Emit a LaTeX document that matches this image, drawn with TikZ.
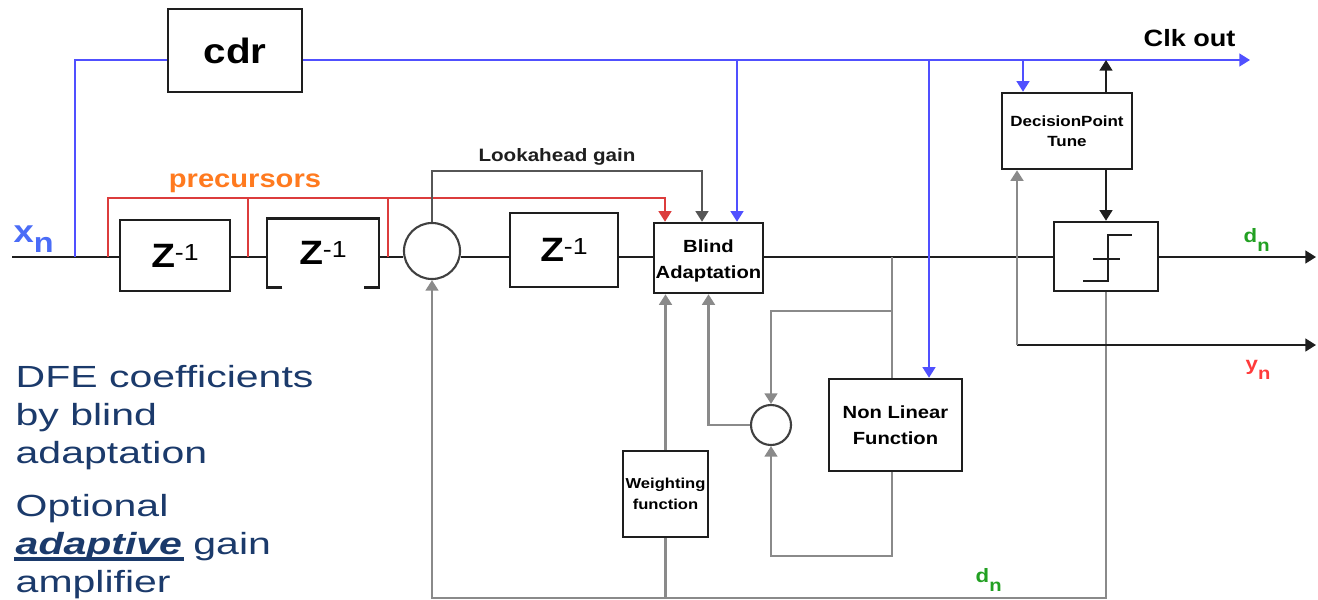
\documentclass[tikz,border=0pt]{standalone}
\usepackage{fontspec}
\setmainfont{Liberation Sans}[FakeStretch=1.15]
\newfontfamily\notefont{Liberation Sans}[FakeStretch=1.34]
\usetikzlibrary{arrows.meta, calc}
\definecolor{ink}     {HTML}{1E1E1E}
\definecolor{loopgrey}{HTML}{8A8A8A}
\definecolor{clkblue} {HTML}{5050FF}
\definecolor{xblue}   {HTML}{4A6CF7}
\definecolor{prered}  {HTML}{DC3C3C}
\definecolor{preorange}{HTML}{FF7A1F}
\definecolor{dgreen}  {HTML}{22A022}
\definecolor{yred}    {HTML}{FF3B3B}
\definecolor{navy}    {HTML}{1B3A6B}
\newcommand{\zinv}{{\fontsize{9.6}{10}\selectfont\bfseries Z}\raisebox{2pt}{\fontsize{6.6}{7}\selectfont\mdseries -1}}
\newcommand{\subn}[1]{{\bfseries #1}\raisebox{-2.6pt}{\fontsize{5}{5}\selectfont\bfseries n}}
\newcommand{\thickul}[1]{\setbox0\hbox{#1}\rlap{\kern-0.5pt\rule[-2pt]{\dimexpr\wd0+1pt\relax}{1.1pt}}\box0\relax}

\begin{document}
\begin{tikzpicture}[x=0.01cm, y=-0.01cm,
    >={Triangle[length=3pt,width=3.6pt]},
    wire/.style={draw=ink, line width=0.6pt},
    clk/.style={draw=clkblue, line width=0.6pt},
    pre/.style={draw=prered, line width=0.6pt},
    look/.style={draw=ink!75, line width=0.6pt},
    loop/.style={draw=loopgrey, line width=0.7pt},
    blk/.style={draw=ink, line width=0.7pt, fill=white, inner sep=0pt,
      align=center, font=\fontsize{5}{7.4}\selectfont\bfseries},
    sumc/.style={draw=ink!85, circle, line width=0.6pt, fill=white, inner sep=0pt}]

    % blocks
    \node[blk, minimum width=1.34cm, minimum height=0.83cm,
      font=\fontsize{10}{12}\selectfont\bfseries] (cdr) at (235,50.5) {cdr};
    \node[blk, minimum width=1.10cm, minimum height=0.71cm] (z1) at (175,255.5) {\zinv};
    \node[inner sep=0pt, minimum width=1.10cm, minimum height=0.68cm] (z2) at (323,253) {\zinv};
    \node[sumc, minimum size=0.56cm] (sum1) at (432,251) {};
    \node[blk, minimum width=1.08cm, minimum height=0.74cm] (z3) at (564,250) {\zinv};
    \node[blk, minimum width=1.09cm, minimum height=0.70cm] (ba) at (708.5,258) {\rule{0pt}{2.2pt}\\[-4.4pt]Blind\\Adaptation};
    \node[blk, minimum width=1.30cm, minimum height=0.76cm,
      font=\fontsize{4.2}{5.7}\selectfont\bfseries] (dpt) at (1067,131) {DecisionPoint\\Tune};
    \node[blk, minimum width=1.04cm, minimum height=0.69cm] (sl) at (1106,256.5) {};
    \node[blk, minimum width=1.33cm, minimum height=0.92cm] (nlf) at (895.5,425) {Non Linear\\Function};
    \node[blk, minimum width=0.85cm, minimum height=0.86cm,
      font=\fontsize{4.1}{6}\selectfont\bfseries] (wf) at (665.5,494) {Weighting\\function};
    \node[sumc, minimum size=0.40cm] (sum2) at (771,425) {};

    % second delay is drawn open at the bottom
    \draw[wire, line width=0.7pt] ([xshift=0.15cm]z2.south west) -- (z2.south west)
      -- (z2.north west) -- (z2.north east) -- (z2.south east) -- ([xshift=-0.15cm]z2.south east);

    % slicer symbol
    \draw[wire] (1083,281) -- (1108,281) -- (1108,235) -- (1132,235);
    \draw[wire] (1093,259) -- (1120,259);

    % main signal path
    \coordinate (xin) at (12,257);
    \coordinate (dout) at (1316,257);
    \draw[wire] (xin) -- (xin -| z1.west)
      (z1.east |- xin) -- (xin -| z2.west)
      (z2.east |- xin) -- (xin -| sum1.west)
      (sum1.east |- xin) -- (xin -| z3.west)
      (z3.east |- xin) -- (xin -| ba.west)
      (ba.east |- xin) -- (xin -| sl.west);
    \draw[wire, ->] (sl.east |- xin) -- (dout);

    % clock recovery
    \coordinate (ck) at (1250,60);
    \coordinate (tap0) at (75,257);
    \coordinate (b1) at (737,60);
    \coordinate (b2) at (929,60);
    \coordinate (b3) at (1023,60);
    \draw[clk] (tap0) |- (cdr.west |- ck);
    \draw[clk, ->] (cdr.east |- ck) -- (ck);
    \draw[clk, ->] (b1) -- (b1 |- ba.north);
    \draw[clk, ->] (b2) -- (b2 |- nlf.north);
    \draw[clk, ->] (b3) -- (b3 |- dpt.north);
    \draw[wire, ->] (sl.north |- dpt.north) -- (sl.north |- ck);
    \draw[wire, ->] (sl.north |- dpt.south) -- (sl.north);

    % precursor taps
    \coordinate (p1) at (108,257);
    \coordinate (p2) at (248,257);
    \coordinate (p3) at (388,257);
    \coordinate (pr) at (665,198);
    \draw[pre, ->] (p1) |- (pr) -- (pr |- ba.north);
    \draw[pre] (p2) -- (p2 |- pr);
    \draw[pre] (p3) -- (p3 |- pr);

    % lookahead gain
    \coordinate (la) at (702,171);
    \draw[look, ->] (sum1.north) |- (la) -- (la |- ba.north);

    % adaptation loops
    \coordinate (nt) at (892,257);
    \coordinate (nb) at (892,311);
    \coordinate (nbot) at (892,556);
    \draw[loop, ->] (wf.north) -- (wf.north |- ba.south);
    \draw[loop, ->] (sum2.west) -| (ba.south);
    \draw[loop] (nt) -- (nt |- nlf.north);
    \draw[loop, ->] (nb) -| (sum2.north);
    \draw[loop, ->] (nbot |- nlf.south) -- (nbot) -| (sum2.south);

    % decision feedback
    \coordinate (fb) at (1106,598);
    \draw[loop, ->] (sl.south) -- (fb) -| (sum1.south);
    \draw[loop] (wf.south) -- (wf.south |- fb);

    % soft output
    \coordinate (yt) at (1017,345);
    \coordinate (yo) at (1316,345);
    \draw[wire, ->] (yt) -- (yo);
    \draw[loop, ->] (yt) -- (yt |- dpt.south);

    % labels
    \node[anchor=base west, inner sep=0pt, text=xblue]
      (xlab) at (13,242) {\fontsize{9}{9}\selectfont\bfseries x\raisebox{-3pt}{\fontsize{8}{8}\selectfont n}};
    \node[anchor=base west, inner sep=0pt, text=dgreen, font=\fontsize{5.5}{6}\selectfont]
      (dlab) at (1243,242) {\subn{d}};
    \node[anchor=base west, inner sep=0pt, text=dgreen, font=\fontsize{5.5}{6}\selectfont]
      (dlab2) at (975,582) {\subn{d}};
    \node[anchor=base west, inner sep=0pt, text=yred, font=\fontsize{5.5}{6}\selectfont]
      (ylab) at (1245,370) {\subn{y}};
    \node[anchor=base west, inner sep=0pt, font=\fontsize{6.7}{7}\selectfont\bfseries]
      (clklab) at (1143,47) {Clk out};
    \node[inner sep=0pt, text=preorange, font=\fontsize{7.2}{8}\selectfont\bfseries]
      (prlab) at (245,183) {precursors};
    \node[inner sep=0pt, text=ink, font=\fontsize{5.1}{6}\selectfont\bfseries]
      (lalab) at (557,157) {Lookahead gain};

    % base anchor of these sits on the last line
    \node[anchor=base west, inner sep=0pt, align=left, text=navy,
      font=\notefont\fontsize{8.7}{10.8}\selectfont] (dfe) at (15,463)
      {DFE coefficients\\by blind\\adaptation};
    \node[anchor=base west, inner sep=0pt, align=left, text=navy,
      font=\notefont\fontsize{8.7}{10.8}\selectfont] (opt) at (15,592)
      {Optional\\\thickul{\textbf{\textit{adaptive}}} gain\\amplifier};

    \useasboundingbox (0,0) rectangle (1318,600);
  \end{tikzpicture}
\end{document}
